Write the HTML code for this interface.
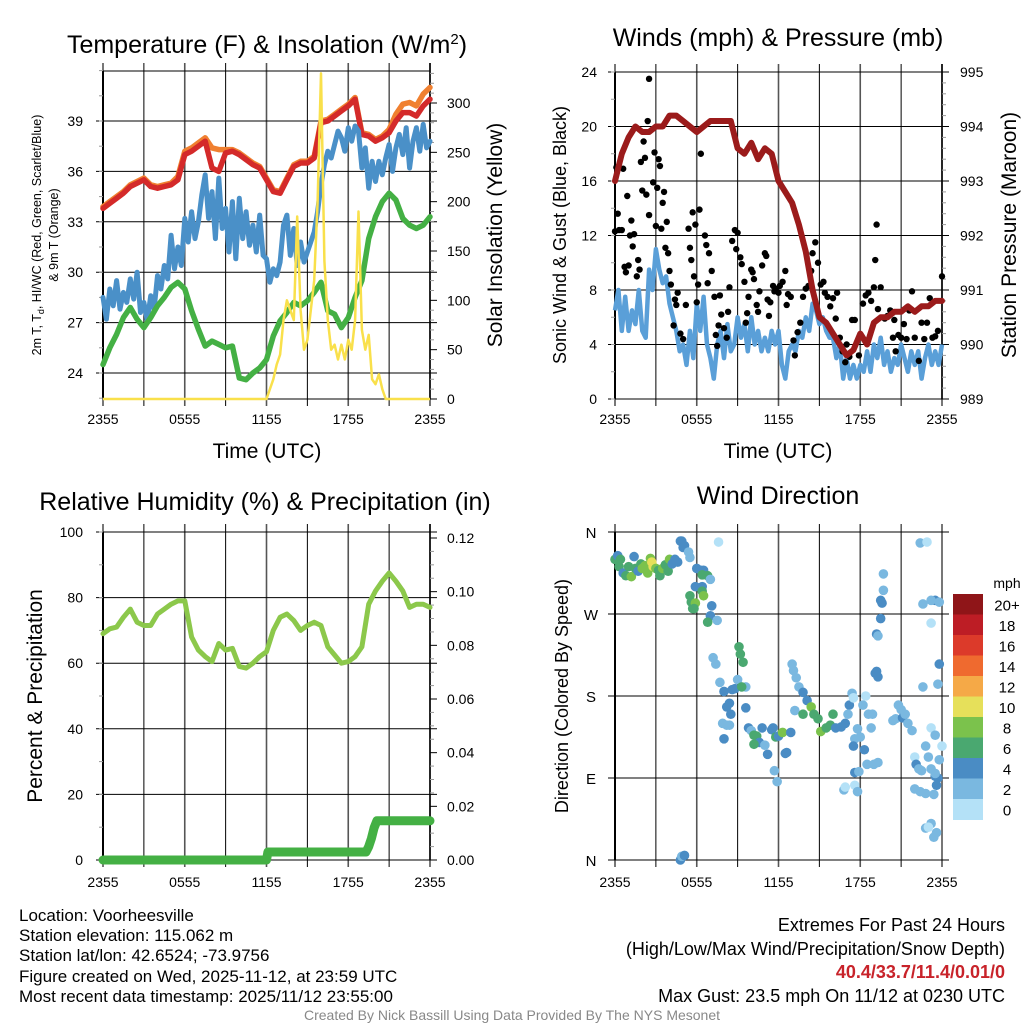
<!DOCTYPE html>
<html><head><meta charset="utf-8">
<style>
html,body{margin:0;padding:0;background:#fff;}
#wrap{position:relative;width:1024px;height:1024px;overflow:hidden;font-family:"Liberation Sans",sans-serif;}
svg text{font-family:"Liberation Sans",sans-serif;}
.info{position:absolute;font-family:"Liberation Sans",sans-serif;font-size:17px;color:#000;white-space:nowrap;line-height:20.2px;}
</style></head>
<body>
<div id="wrap">
<svg id="chart" width="1024" height="1024" viewBox="0 0 1024 1024" xmlns="http://www.w3.org/2000/svg"></svg>
<div class="info" style="left:19px;top:906px;">
<div>Location: Voorheesville</div>
<div>Station elevation: 115.062 m</div>
<div>Station lat/lon: 42.6524; -73.9756</div>
<div>Figure created on Wed, 2025-11-12, at 23:59 UTC</div>
<div>Most recent data timestamp: 2025/11/12 23:55:00</div>
</div>
<div class="info" style="right:19px;top:914px;text-align:right;line-height:23.5px;font-size:18px;">
<div>Extremes For Past 24 Hours</div>
<div>(High/Low/Max Wind/Precipitation/Snow Depth)</div>
<div style="color:#c8232a;font-weight:bold;">40.4/33.7/11.4/0.01/0</div>
<div>Max Gust: 23.5 mph On 11/12 at 0230 UTC</div>
</div>
<div class="info" style="left:0;width:1024px;top:1005px;text-align:center;font-size:14px;color:#888;">Created By Nick Bassill Using Data Provided By The NYS Mesonet</div>
</div>
<script>
// ---------- DATA ----------
const timeTicks = ["2355","0555","1155","1755","2355"];
const tHalf = [0,0.5,1,1.5,2,2.5,3,3.5,4,4.5,5,5.5,6,6.5,7,7.5,8,8.5,9,9.5,10,10.5,11,11.5,12,12.5,13,13.5,14,14.5,15,15.5,16,16.5,17,17.5,18,18.5,19,19.5,20,20.5,21,21.5,22,22.5,23,23.5,24];
const tempRed = [33.8,34.1,34.4,34.7,35.1,35.3,35.5,35.1,35.0,35.1,35.2,35.5,37.0,37.2,37.5,37.8,36.2,36.0,37.1,37.2,37.0,36.7,36.4,36.2,35.5,34.8,34.7,35.5,36.3,36.5,36.5,36.8,38.9,39.0,39.3,39.6,39.9,40.3,38.2,38.1,37.8,38.0,38.3,39.0,39.5,39.5,39.3,39.9,40.3];
const tempOrange = [33.9,34.2,34.5,34.8,35.2,35.4,35.6,35.2,35.1,35.2,35.3,35.7,37.2,37.4,37.7,38.0,37.4,37.3,37.3,37.3,37.1,36.8,36.5,36.3,35.6,34.9,34.8,35.6,36.4,36.6,36.6,36.9,39.0,39.1,39.4,39.7,40.0,40.4,38.3,38.2,37.9,38.1,38.5,39.4,40.0,40.1,39.9,40.6,41.0];
const dewGreen = [24.5,25.5,26.3,27.3,27.9,27.2,26.7,27.3,28.0,28.5,29.1,29.4,29.0,27.7,26.6,25.6,25.9,25.7,25.5,25.6,23.7,23.6,24.0,24.3,24.8,26.2,27.1,27.6,28.2,28.0,28.3,28.8,29.4,27.7,27.5,26.7,27.3,28.5,29.5,32.0,33.3,34.2,34.7,34.3,33.2,32.8,32.6,32.8,33.3];
// quarter-hour series (t = index * 0.25 h)
const chillBlue = [28.5,27.2,29.0,28.0, 29.5,27.8,28.8,28.2, 29.6,28.4,30.0,27.6, 28.2,27.1,28.6,27.8, 29.8,29.0,30.4,29.6, 32.2,30.2,31.5,30.4, 33.2,31.8,33.6,32.0, 33.0,34.6,35.8,33.2, 34.8,32.0,35.6,32.6, 33.8,31.2,34.2,30.8, 34.4,32.0,33.6,31.6, 32.8,31.2,33.4,31.0, 30.8,29.4,30.2,29.8, 30.6,32.8,33.4,31.0, 32.6,30.4,31.8,30.6, 31.2,31.8,32.4,33.6, 35.2,36.4,37.2,36.8, 37.6,38.4,38.0,37.2, 38.6,37.8,38.7,38.4, 36.2,37.4,35.0,36.6, 35.4,36.6,35.8,36.8, 37.6,36.0,37.4,38.2, 37.0,38.6,36.2,37.8, 38.6,37.2,38.8,37.4, 37.8];
const windSpeed = [6.5,8,5,7.5, 5,6.5,5.5,8, 5,4.5,9.5,8, 11,9.5,8.5,9, 7,6,5,3.5, 4,2.5,5,3, 7,5,7.5,4, 3,1.5,4,5, 3,5.5,3.5,4, 6,4.5,5.5,3.5, 6,4,5,3.5, 4.5,3.5,5,4, 5,2.5,1.5,3.5, 4,3.5,5,4.5, 6,5,7,6.5, 5.5,6,5,4.5, 4.5,3,4,1.5, 3,1.5,2.5,1.5, 2.5,2,3.5,2, 4,3,4.5,2.5, 3.5,2,3,2.5, 4,3,2,3.5, 2.5,3.5,1.5,3, 4,2.5,3.5,2.5, 4];
const tSolar = [0,12,12.25,12.5,12.75,13,13.25,13.5,13.75,14,14.25,14.5,14.75,15,15.25,15.5,15.75,16,16.25,16.5,16.75,17,17.25,17.5,17.75,18,18.25,18.5,18.75,19,19.25,19.5,19.75,20,20.25,20.5,20.75,24];
const solar = [0,0,10,20,35,45,80,100,90,80,185,90,50,60,90,120,200,330,140,80,50,55,40,55,40,60,50,80,190,70,50,65,20,15,25,10,0,0];
const pressure = [993.0,993.5,993.8,994.0,993.9,993.9,994.0,994.0,994.2,994.2,994.1,994.0,993.9,994.0,994.1,994.1,994.1,994.1,993.6,993.5,993.7,993.4,993.6,993.5,993.0,992.8,992.6,992.2,991.7,991.0,990.5,990.4,990.2,990.0,989.8,989.9,990.2,990.0,990.4,990.5,990.5,990.6,990.6,990.7,990.6,990.7,990.7,990.8,990.8];
const gustT = [0,0.1,0.2,0.3,0.5,0.6,0.7,0.8,0.9,1.0,1.1,1.2,1.3,1.4,1.6,1.7,1.8,1.9,2.0,2.1,2.2,2.3,2.4,2.5,2.5,2.8,2.9,3.0,3.1,3.2,3.3,3.4,3.5,3.6,3.7,3.8,3.9,4.0,4.1,4.3,4.4,4.5,4.6,4.8,5.0,5.2,5.4,5.5,5.6,5.7,5.8,5.9,6.0,6.1,6.2,6.3,6.6,6.7,6.8,6.9,7.1,7.3,7.4,7.5,7.6,7.7,7.8,8.0,8.2,8.3,8.4,8.6,8.8,8.9,9.0,9.2,9.3,9.5,9.6,9.7,9.8,10.0,10.1,10.2,10.4,10.5,10.6,10.8,11.0,11.1,11.2,11.3,11.4,11.6,11.7,11.8,12.0,12.1,12.3,12.5,12.6,12.7,12.9,13.1,13.2,13.4,13.6,13.8,14.0,14.2,14.4,14.5,14.7,14.9,15.1,15.3,15.4,15.6,15.8,16.0,16.2,16.3,16.5,16.7,16.9,17.0,17.2,17.4,17.6,17.9,18.0,18.2,18.4,18.6,18.8,19.0,19.1,19.2,19.3,19.5,19.8,20.0,20.2,20.4,20.5,20.6,20.8,21.0,21.2,21.4,21.6,21.8,22.0,22.3,22.5,22.7,22.9,23.1,23.3,23.5,23.7,24.0];
const gustV = [12.3,17,13.6,12.4,12.4,16.9,9.7,9.3,14.9,9.8,12,13.1,11.2,12.1,9,10.2,9.5,17.4,15.3,18.9,17.7,15,20.4,13.5,23.5,15.9,18.1,12.7,15.5,17.6,17.1,12.5,14.4,15.2,11.1,13,10.7,9.4,8.4,5.4,7.3,6.9,7.8,4.8,4.4,6.9,12.5,11.1,10.2,13.7,9,12.8,7.1,8.4,13.9,18,12,11.3,8.5,10.7,9.4,7.5,4.7,3.9,5.4,7.6,6.2,5.2,4.5,6.4,8.2,11.6,12.4,11,12.2,10.4,9.9,8.6,5.6,6.3,7.5,9.5,9.3,8.8,6.9,6.4,7.9,9.8,10.7,10.5,7.3,6.1,7.1,8.3,7.9,8.1,7.8,8.3,8.6,9.4,6.9,7.7,7.5,4.3,3.2,4.9,5.6,7.5,8.1,8.3,9.4,10.7,11.5,10,8.4,8.6,7.8,7.5,6.8,7.4,5.9,7.8,4.5,3.5,2.7,4,3.1,5.8,5.8,3.2,4.7,7,7.6,7.8,7.2,8.2,10.2,12.8,6.6,8.2,5.9,6.1,6.5,4.5,5.8,3.5,4.7,4.5,5.5,4.4,6.5,7.9,4.5,2.8,5.6,4.4,5.6,7.4,4.5,4.6,5,9];
const rh = [69,70.5,71,74,76.5,72.5,71.5,71.5,75,76.5,78,79,79,68,64,62,60.5,66,64,64.5,59,58.5,60,62,63.5,70,74,75,73,70,71.5,72.5,71.5,65,62.5,60,60.5,62,65,78,82,85,87.5,85,82,77,78,78,77];
const tPrecip = [0,12,12.1,19.3,19.5,19.7,19.9,20.1,24];
const precip = [0,0,0.003,0.003,0.005,0.008,0.012,0.0146,0.0146];
const dirT = [0,0.2,0.3,0.4,0.6,0.8,1.0,1.2,1.4,1.5,1.7,1.9,2.0,2.2,2.4,2.6,2.7,2.8,3.0,3.2,3.3,3.5,3.7,3.9,4.0,4.2,4.4,4.6,4.8,4.9,5.0,5.1,5.4,5.5,4.8,4.9,5.1,7.6,6.0,6.3,6.5,6.4,6.8,7.0,5.9,6.4,6.4,6.5,5.5,5.6,5.7,5.9,5.8,7.1,7.0,6.8,7.5,7.2,7.4,7.7,8.0,8.2,8.4,7.9,8.2,8.0,8.4,8.5,8.6,8.8,9.0,9.1,9.2,9.4,9.6,9.3,9.6,9.8,10.0,10.2,10.4,10.6,10.8,10.2,11.0,11.2,11.5,11.8,11.6,12.0,11.7,11.9,12.5,12.3,12.6,12.9,13.0,13.1,13.3,13.5,13.8,13.2,13.8,14.1,14.4,14.6,14.9,15.1,15.5,15.8,16.2,16.6,16.0,16.9,17.2,17.4,17.5,17.1,17.6,17.5,17.8,18.0,18.2,18.4,18.6,18.3,18.5,18.9,18.8,19.0,19.3,17.6,17.9,17.6,17.8,16.8,16.9,19.7,19.7,19.5,19.6,19.5,19.2,19.3,19.1,19.2,19.3,20.4,20.6,20.8,21.0,21.1,21.3,21.5,21.8,22.0,22.1,22.5,22.8,22.4,22.8,22.3,22.0,23.0,23.2,23.5,23.8,23.7,23.6,23.2,23.4,23.5,23.5,23.2,23.6,22.8,23.0,23.4,22.4,22.9,23.5,23.8,22.6,23.2,23.2,24.0,23.8,23.7,22.6];
const dirDeg = [330,334,322,330,315,312,322,311,333,320,317,325,320,323,315,331,327,322,320,318,312,320,324,317,330,325,330,327,350,350,343,345,338,332,0,4,5,349,320,318,318,313,312,308,300,300,295,290,290,283,276,282,276,279,268,261,263,222,215,195,185,168,172,150,148,133,148,160,187,188,198,234,226,217,190,190,167,145,142,137,136,129,145,127,126,116,143,135,145,136,98,86,117,140,118,140,215,208,200,190,184,164,160,175,168,160,155,141,145,148,145,146,160,150,170,183,178,160,133,125,144,135,170,180,160,121,105,160,145,105,107,96,97,82,75,77,80,314,296,285,282,265,248,246,205,207,201,153,155,170,165,156,160,150,142,113,105,98,125,75,73,100,78,113,145,137,110,90,82,100,72,92,95,40,30,35,36,25,348,349,285,283,281,285,260,125,215,193,190];
const dirSpd = [6,4,7,6,5,7,6,8,4,6,4,7,8,9,8,8,10,10,8,6,6,8,6,6,8,4,4,4,4,4,4,4,3,3,4,3,4,1,4,4,4,7,6,3,4,4,6,8,6,6,6,8,7,4,4,6,3,3,3,3,4,4,4,3,3,4,3,4,4,4,3,6,6,6,3,6,4,4,3,6,6,4,4,6,3,4,4,6,4,4,3,3,4,8,4,4,3,3,3,3,4,3,6,4,8,6,6,8,6,6,4,4,6,4,4,3,1,3,3,4,3,2,2,1,3,4,3,3,2,2,2,4,2,1,2,2,1,2,2,4,4,4,4,2,4,4,4,2,3,2,2,4,2,2,2,1,4,2,2,3,2,2,3,2,1,2,2,4,4,2,2,4,3,2,2,2,1,2,2,0,4,2,2,2,0,0,4,3,2,2];
const speedBins = ["0","2","4","6","8","10","12","14","16","18","20+"];
const speedColors = ["#b4e1f7","#7ab8e0","#4a8cc4","#4aa870","#7bc24c","#e6e05a","#f5a947","#ef6a2f","#dc3a2a","#bd1d25","#8f1518"];

// ---------- HELPERS ----------
const svg = document.getElementById('chart');
const NS = "http://www.w3.org/2000/svg";
function mk(tag, attrs, parent){ const e=document.createElementNS(NS,tag); for(const k in attrs) e.setAttribute(k,attrs[k]); (parent||svg).appendChild(e); return e; }
function txt(s, x, y, size, anchor, parent, rot){ const e=mk('text',{x:x,y:y,'font-size':size,'text-anchor':anchor||'middle',fill:'#000'},parent); if(rot) e.setAttribute('transform','rotate(-90 '+x+' '+y+')'); e.textContent=s; return e; }
function lin(d0,d1,p0,p1){ return v => p0+(v-d0)/(d1-d0)*(p1-p0); }
function pathFrom(xs, ys, fx, fy){ let d=''; for(let i=0;i<ys.length;i++){ d+=(i?'L':'M')+fx(xs[i]).toFixed(1)+','+fy(ys[i]).toFixed(1);} return d; }
const tQ = chillBlue.map((_,i)=>i*0.25);
const tQw = windSpeed.map((_,i)=>i*0.25);

function frame(g, L, R, T, B, hy){
  for(let i=0;i<=8;i++){ const x=L+(R-L)*i/8;
    const l=mk('line',{x1:x,y1:T-8,x2:x,y2:B+7,stroke:i%2?'#000':'#555','stroke-width':i%2?1:1.6},g);
      }
  hy.forEach(y=>{ const l=mk('line',{x1:L-7,y1:y,x2:R+7,y2:y,stroke:'#000','stroke-width':1},g);
      });
  mk('line',{x1:L,y1:T,x2:R,y2:T,stroke:'#000','stroke-width':1},g);
  mk('line',{x1:L,y1:B,x2:R,y2:B,stroke:'#000','stroke-width':1},g);
  mk('line',{x1:L,y1:T,x2:L,y2:B,stroke:'#000','stroke-width':2},g);
}
function timeLabels(g,L,R,y){ timeTicks.forEach((s,i)=>{ const t=txt(s,L+(R-L)*i/4,y,14,'middle',g);
    }); }

// ---------- PANEL 1: Temperature ----------
(function(){
  const L=103,R=430,T=71,B=399;
  const g=mk('g',{});  
  const fx=lin(0,24,L,R), fy=lin(24,39,373,121), fs=lin(0,300,B,103);
  const yT=[24,27,30,33,36,39];
  frame(g,L,R,T,B,yT.map(fy));
  for(let v=22.5;v<=42;v+=1.5){ mk('line',{x1:L-4,y1:fy(v),x2:L,y2:fy(v),stroke:'#999'},g); }
  yT.forEach(v=>{ const t=txt(v,83,fy(v)+5,14,'end',g);   });
  mk('line',{x1:R,y1:T-8,x2:R,y2:B,stroke:'#000','stroke-width':1.5},g);
  for(let v=0;v<=330;v+=10){ const maj=v%50===0; mk('line',{x1:R,y1:fs(v),x2:R+(maj?7:4),y2:fs(v),stroke:maj?'#000':'#999'},g); }
  [0,50,100,150,200,250,300].forEach(v=>{ const t=txt(v,447,fs(v)+5,14,'start',g);   });
  const s1=mk('path',{d:pathFrom(tHalf,tempOrange,fx,fy),fill:'none',stroke:'#f08030','stroke-width':5.5,'stroke-linejoin':'round','stroke-linecap':'round'},g);
   
  const s2=mk('path',{d:pathFrom(tHalf,tempRed,fx,fy),fill:'none',stroke:'#d42a2a','stroke-width':5.5,'stroke-linejoin':'round','stroke-linecap':'round'},g);
   
  const s3=mk('path',{d:pathFrom(tQ,chillBlue,fx,fy),fill:'none',stroke:'#4a90c8','stroke-width':5,'stroke-linejoin':'round','stroke-linecap':'round'},g);
   
  const s4=mk('path',{d:pathFrom(tHalf,dewGreen,fx,fy),fill:'none',stroke:'#44b044','stroke-width':5.5,'stroke-linejoin':'round','stroke-linecap':'round'},g);
   
  const s5=mk('path',{d:pathFrom(tSolar,solar,fx,fs),fill:'none',stroke:'#f9e04b','stroke-width':2.5,'stroke-linejoin':'round'},g);
   
  timeLabels(g,L,R,424);
  const a=txt('Time (UTC)',267,458,21,'middle',g);  
  const t=mk('text',{x:267,y:53,'font-size':25,'text-anchor':'middle'},g); t.innerHTML='Temperature (F) &amp; Insolation (W/m<tspan dy="-9" font-size="15">2</tspan><tspan dy="9">)</tspan>';
   
  const y1=mk('text',{x:41,y:235,'font-size':12.5,'text-anchor':'middle',transform:'rotate(-90 41 235)'},g);
  y1.innerHTML='2m T, T<tspan dy="3" font-size="9">d</tspan><tspan dy="-3">, HI/WC (Red, Green, Scarlet/Blue)</tspan>';
   
  const y1b=txt('& 9m T (Orange)',58,235,12.5,'middle',g,true);  
  const y2=txt('Solar Insolation (Yellow)',502,235,21,'middle',g,true);  
})();

// ---------- PANEL 2: Winds ----------
(function(){
  const L=615,R=942,T=72,B=399;
  const g=mk('g',{});  
  const fx=lin(0,24,L,R), fy=lin(0,24,B,T), fp=lin(989,995,B,T);
  const yT=[0,4,8,12,16,20,24];
  frame(g,L,R,T,B,yT.map(fy));
  for(let v=0;v<=24;v+=2){ mk('line',{x1:L-4,y1:fy(v),x2:L,y2:fy(v),stroke:'#999'},g); }
  yT.forEach(v=>{ const t=txt(v,597,fy(v)+5,14,'end',g);   });
  mk('line',{x1:R,y1:T-8,x2:R,y2:B,stroke:'#000','stroke-width':1.5},g);
  for(let v=989;v<=995.001;v+=0.2){ const maj=Math.abs(v-Math.round(v))<0.01; mk('line',{x1:R,y1:fp(v),x2:R+(maj?7:4),y2:fp(v),stroke:maj?'#000':'#999'},g); }
  [989,990,991,992,993,994,995].forEach(v=>{ const t=txt(v,960,fp(v)+5,14,'start',g);   });
  const w=mk('path',{d:pathFrom(tQw,windSpeed,fx,fy),fill:'none',stroke:'#5a9fd8','stroke-width':4.5,'stroke-linejoin':'round'},g);
   
  gustT.forEach((t,i)=>{ const c=mk('circle',{cx:fx(t),cy:fy(gustV[i]),r:3.2,fill:'#000'},g);
      });
  const p=mk('path',{d:pathFrom(tHalf,pressure,fx,fp),fill:'none',stroke:'#9b1b1b','stroke-width':6,'stroke-linejoin':'round','stroke-linecap':'round'},g);
   
  timeLabels(g,L,R,424);
  const a=txt('Time (UTC)',778,458,21,'middle',g);  
  const t=txt('Winds (mph) & Pressure (mb)',778,46,25,'middle',g);  
  const y1=txt('Sonic Wind & Gust (Blue, Black)',566,235,18,'middle',g,true);  
  const y2=txt('Station Pressure (Maroon)',1016,235,21,'middle',g,true);  
})();

// ---------- PANEL 3: Humidity ----------
(function(){
  const L=103,R=430,T=532,B=860;
  const g=mk('g',{});  
  const fx=lin(0,24,L,R), fy=lin(0,100,B,T), fq=lin(0,0.12,B,538);
  const yT=[0,20,40,60,80,100];
  frame(g,L,R,T,B,yT.map(fy));
  for(let v=0;v<=100;v+=10){ mk('line',{x1:L-4,y1:fy(v),x2:L,y2:fy(v),stroke:'#999'},g); }
  yT.forEach(v=>{ const t=txt(v,83,fy(v)+5,14,'end',g);   });
  mk('line',{x1:R,y1:T-8,x2:R,y2:B,stroke:'#000','stroke-width':1.5},g);
  for(let i=0;i<=24;i++){ const v=i*0.005; const maj=i%4===0; mk('line',{x1:R,y1:fq(v),x2:R+(maj?7:4),y2:fq(v),stroke:maj?'#000':'#999'},g); }
  ["0.00","0.02","0.04","0.06","0.08","0.10","0.12"].forEach(s=>{ const t=txt(s,447,fq(parseFloat(s))+5,14,'start',g);   });
  const h=mk('path',{d:pathFrom(tHalf,rh,fx,fy),fill:'none',stroke:'#8cc84b','stroke-width':5,'stroke-linejoin':'round','stroke-linecap':'round'},g);
   
  const pr=mk('path',{d:pathFrom(tPrecip,precip,fx,fq),fill:'none',stroke:'#44b044','stroke-width':9,'stroke-linejoin':'round','stroke-linecap':'round'},g);
   
  timeLabels(g,L,R,887);
  const t=txt('Relative Humidity (%) & Precipitation (in)',265,510,25,'middle',g);  
  const y1=txt('Percent & Precipitation',42,696,21,'middle',g,true);  
})();

// ---------- PANEL 4: Wind direction ----------
(function(){
  const L=615,R=942,T=532,B=860;
  const g=mk('g',{});  
  const fx=lin(0,24,L,R), fy=lin(0,360,B,T);
  const dirs=["N","E","S","W","N"];
  frame(g,L,R,T,B,[0,90,180,270,360].map(fy));
  dirs.forEach((s,i)=>{ const t=txt(s,591,fy(i*90)+6,15,'middle',g);   });
  dirT.forEach((t,i)=>{ const c=mk('circle',{cx:fx(t),cy:fy(dirDeg[i]),r:4.8,fill:speedColors[Math.min(10,Math.floor(dirSpd[i]/2))]},g);
      });
  timeLabels(g,L,R,887);
  const t=txt('Wind Direction',778,504,25,'middle',g);  
  const y1=txt('Direction (Colored By Speed)',568,696,18,'middle',g,true);  
  const lg=mk('g',{},g);  
  const top=594, h=20.5;
  for(let i=0;i<11;i++){ const idx=10-i;
    const r=mk('rect',{x:953,y:top+i*h,width:30,height:h+0.5,fill:speedColors[idx]},lg);
     
    const l=txt(speedBins[idx],1007,top+i*h+h/2+6,15,'middle',lg);   }
  const u=txt('mph',1007,588,14,'middle',lg);  
})();
</script>
</body></html>
